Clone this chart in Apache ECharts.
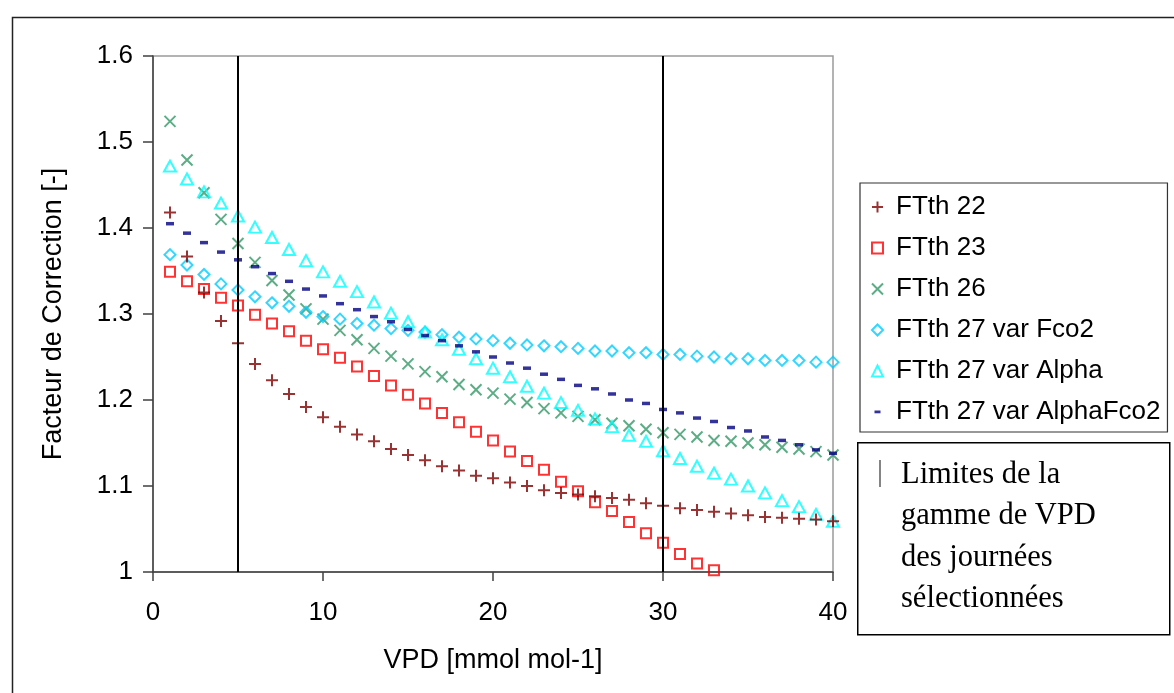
<!DOCTYPE html>
<html>
<head>
<meta charset="utf-8">
<script src="https://cdn.jsdelivr.net/npm/echarts@6/dist/echarts.min.js"></script>
<style>
html,body{margin:0;padding:0;background:#fff;}
#chart{width:1174px;height:693px;}
</style>
</head>
<body>
<div id="chart"></div>
<script>
// ---- data ----
const vpd = [1,2,3,4,5,6,7,8,9,10,11,12,13,14,15,16,17,18,19,20,21,22,23,24,25,26,27,28,29,30,31,32,33,34,35,36,37,38,39,40];
const ftth22 = [1.418,1.367,1.325,1.292,1.266,1.242,1.223,1.207,1.192,1.180,1.169,1.160,1.152,1.143,1.136,1.130,1.123,1.118,1.112,1.109,1.104,1.100,1.095,1.092,1.090,1.088,1.086,1.084,1.080,1.077,1.074,1.072,1.070,1.068,1.066,1.064,1.063,1.062,1.061,1.059];
const ftth23 = [1.349,1.338,1.329,1.319,1.310,1.299,1.289,1.280,1.269,1.259,1.249,1.239,1.228,1.217,1.206,1.196,1.185,1.174,1.163,1.153,1.140,1.129,1.119,1.105,1.094,1.081,1.071,1.058,1.045,1.034,1.021,1.010,1.002];
const ftth26 = [1.524,1.479,1.441,1.410,1.382,1.360,1.339,1.322,1.306,1.294,1.281,1.270,1.260,1.251,1.242,1.233,1.227,1.218,1.212,1.208,1.201,1.197,1.190,1.185,1.181,1.177,1.173,1.170,1.166,1.162,1.160,1.157,1.153,1.152,1.150,1.148,1.145,1.143,1.140,1.136];
const ftth27Fco2 = [1.369,1.357,1.346,1.335,1.328,1.320,1.313,1.309,1.302,1.297,1.294,1.289,1.287,1.283,1.281,1.279,1.276,1.273,1.271,1.269,1.266,1.264,1.263,1.262,1.260,1.257,1.257,1.255,1.255,1.253,1.253,1.251,1.250,1.248,1.248,1.246,1.246,1.246,1.244,1.244];
const ftth27Alpha = [1.472,1.457,1.442,1.429,1.414,1.401,1.389,1.375,1.362,1.349,1.338,1.326,1.314,1.301,1.291,1.279,1.270,1.259,1.248,1.237,1.227,1.216,1.208,1.197,1.188,1.178,1.169,1.159,1.152,1.141,1.132,1.123,1.115,1.108,1.100,1.092,1.083,1.076,1.067,1.059];
const ftth27AlphaFco2 = [1.405,1.394,1.383,1.372,1.363,1.355,1.347,1.338,1.329,1.321,1.312,1.305,1.297,1.291,1.282,1.275,1.269,1.263,1.256,1.250,1.243,1.237,1.230,1.224,1.217,1.213,1.207,1.200,1.196,1.189,1.185,1.179,1.175,1.168,1.164,1.157,1.153,1.148,1.142,1.138];
const seriesNames = ['FTth 22','FTth 23','FTth 26','FTth 27 var Fco2','FTth 27 var Alpha','FTth 27 var AlphaFco2'];
const vpdLimits = [5, 30];
const xTicks = {min:0, max:40, interval:10};
const yTicks = {min:1, max:1.6, interval:0.1};
const boxLines = ['Limites de la','gamme de VPD','des journées','sélectionnées'];

// ---- rendering ----
const pairs = arr => arr.map((v,i)=>[vpd[i], v]);
const SANS = '"Liberation Sans", Arial, sans-serif';
const SERIF = '"Liberation Serif", "Times New Roman", serif';
const PLUS = 'path://M0,5L10,5M5,0L5,10';
const CROSS = 'path://M0,0L10,10M10,0L0,10';
const DASH_ICON = 'path://M0,0M11,11M2.5,4L8.5,4L8.5,6.8L2.5,6.8Z';

function hollow(color, w){ return {color:'rgba(0,0,0,0)', borderColor:color, borderWidth:w||1.5}; }

const chart = echarts.init(document.getElementById('chart'), null, {renderer:'canvas'});
const option = {
  animation:false,
  backgroundColor:'#fff',
  grid:{left:153, top:56, right:341, bottom:121, show:true, borderColor:'#9a9a9a', borderWidth:1.5, backgroundColor:'transparent'},
  xAxis:{
    type:'value', min:xTicks.min, max:xTicks.max, interval:xTicks.interval,
    name:'VPD [mmol mol-1]', nameLocation:'middle', nameGap:75,
    nameTextStyle:{fontFamily:SANS, fontSize:27, color:'#000'},
    axisLine:{show:true, onZero:false, lineStyle:{color:'#404040', width:1.5}},
    axisTick:{show:true, inside:false, length:9, lineStyle:{color:'#404040', width:1.5}},
    axisLabel:{fontFamily:SANS, fontSize:26, color:'#000', margin:28},
    splitLine:{show:false}
  },
  yAxis:{
    type:'value', min:yTicks.min, max:yTicks.max, interval:yTicks.interval,
    name:'Facteur de Correction [-]', nameLocation:'middle', nameGap:86,
    nameTextStyle:{fontFamily:SANS, fontSize:27, color:'#000'},
    axisLine:{show:true, onZero:false, lineStyle:{color:'#404040', width:1.5}},
    axisTick:{show:true, inside:false, length:10, lineStyle:{color:'#404040', width:1.5}},
    axisLabel:{fontFamily:SANS, fontSize:26, color:'#000', margin:20},
    splitLine:{show:false}
  },
  legend:{
    orient:'vertical', left:860, top:183,
    padding:[11,7,7,11],
    itemWidth:11, itemHeight:11, itemGap:15,
    backgroundColor:'#fff', borderColor:'#333', borderWidth:1.2,
    textStyle:{fontFamily:SANS, fontSize:26, color:'#000', padding:[0,0,0,8]},
    data:[
      {name:seriesNames[0], icon:PLUS},
      {name:seriesNames[1], icon:'rect'},
      {name:seriesNames[2], icon:CROSS},
      {name:seriesNames[3], icon:'diamond'},
      {name:seriesNames[4], icon:'triangle'},
      {name:seriesNames[5], icon:DASH_ICON}
    ]
  },
  series:[
    {name:seriesNames[0], type:'scatter', data:pairs(ftth22), symbol:PLUS, symbolSize:12,
     itemStyle:hollow('#800000',2), z:3,
     markLine:{silent:true, symbol:'none', label:{show:false}, lineStyle:{color:'#000', width:2, type:'solid'},
       data:vpdLimits.map(v=>({xAxis:v}))}},
    {name:seriesNames[1], type:'scatter', data:pairs(ftth23), symbol:'rect', symbolSize:10,
     itemStyle:hollow('#ff0000',2)},
    {name:seriesNames[2], type:'scatter', data:pairs(ftth26), symbol:CROSS, symbolSize:11,
     itemStyle:hollow('#339966',2)},
    {name:seriesNames[3], type:'scatter', data:pairs(ftth27Fco2), symbol:'diamond', symbolSize:[11,11],
     itemStyle:hollow('#00ccff',2)},
    {name:seriesNames[4], type:'scatter', data:pairs(ftth27Alpha), symbol:'triangle', symbolSize:[12,11],
     itemStyle:hollow('#00ffff',2)},
    {name:seriesNames[5], type:'scatter', data:pairs(ftth27AlphaFco2), symbol:'rect', symbolSize:[8,3.5],
     itemStyle:{color:'#000080', borderWidth:0}}
  ],
  graphic:[
    {type:'rect', left:10, top:15, z:-10, silent:true,
     shape:{x:0, y:0, width:1200, height:720},
     style:{fill:'none', stroke:'#222', lineWidth:1.5}},
    {type:'rect', left:857, top:442, silent:true,
     shape:{x:0, y:0, width:312, height:192},
     style:{fill:'#fff', stroke:'#000', lineWidth:1.5}},
    {type:'line', silent:true,
     shape:{x1:880, y1:460, x2:880, y2:487},
     style:{stroke:'#333', lineWidth:1.2}},
    {type:'text', left:901, top:454, silent:true,
     style:{text:boxLines.join('\n'), font:'30.5px ' + SERIF, fill:'#000', lineHeight:41.5}}
  ]
};
chart.setOption(option);
</script>
</body>
</html>
